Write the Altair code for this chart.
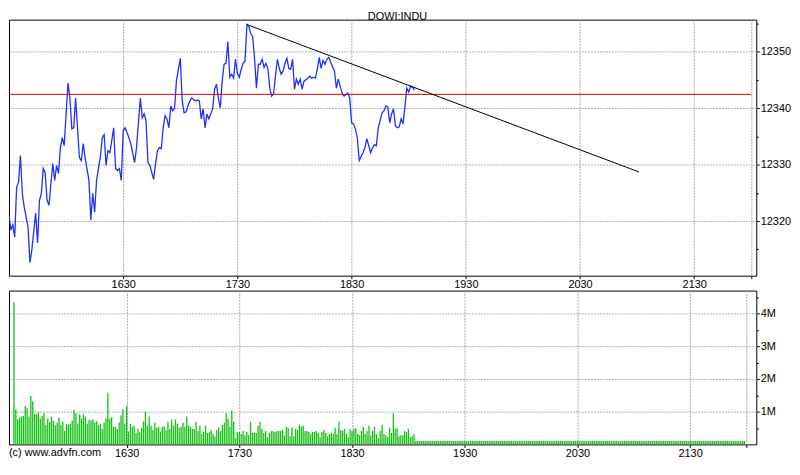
import altair as alt
import pandas as pd

# ---------------- data ----------------
TITLE = "DOWI:INDU"
COPYRIGHT = "(c) www.advfn.com"
SESSION_OPEN_MIN = 930  # 15:30 expressed in minutes after midnight

# price line: minutes after 15:30 and index level
price_minute = [0, 1, 2, 3, 4, 5, 6, 7, 8, 10, 11, 12, 14, 15, 16, 17, 18, 19, 20, 21,
                23, 24, 25, 26, 27, 28, 29, 31, 32, 33, 34, 35, 36, 37, 38, 39, 40, 42, 43, 44,
                45, 46, 48, 49, 50, 51, 52, 53, 54, 55, 56, 57, 58, 59, 60, 61, 63, 64, 66, 67,
                69, 70, 71, 72, 73, 74, 76, 77, 78, 79, 80, 81, 82, 83, 84, 85, 86, 87, 88, 90,
                91, 92, 93, 94, 95, 96, 98, 99, 100, 101, 102, 103, 104, 105, 106, 107, 108, 109, 110, 111,
                112, 113, 114, 115, 116, 117, 118, 119, 120, 121, 122, 123, 124, 125, 126, 127, 128, 129, 130, 131,
                132, 133, 134, 135, 136, 137, 138, 139, 140, 141, 142, 143, 144, 145, 146, 147, 148, 149, 150, 151,
                152, 153, 154, 155, 157, 158, 159, 160, 161, 162, 163, 164, 165, 166, 167, 168, 169, 171, 172, 173,
                174, 175, 176, 178, 179, 180, 181, 182, 183, 184, 186, 187, 188, 189, 190, 191, 192, 193, 194, 196,
                197, 198, 199, 200, 201, 202, 203, 204, 205, 206, 207, 208, 209, 210, 211, 212, 213]
price_value = [12321.05, 12318.42, 12319.30, 12317.19, 12325.97, 12326.85, 12331.60, 12324.92, 12322.46, 12318.94,
               12312.62, 12314.90, 12321.41, 12316.13, 12323.69, 12324.92, 12329.31, 12328.61, 12323.69, 12322.81,
               12330.19, 12327.21, 12329.84, 12328.44, 12333.00, 12334.76, 12333.36, 12344.43, 12341.79, 12336.34,
               12336.52, 12341.79, 12336.52, 12331.25, 12330.72, 12333.71, 12331.25, 12327.21, 12320.18, 12324.92,
               12321.58, 12327.21, 12331.42, 12334.76, 12335.29, 12329.84, 12332.48, 12332.13, 12334.24, 12336.52,
               12329.31, 12328.96, 12329.31, 12327.21, 12335.99, 12336.52, 12334.76, 12333.71, 12330.37, 12333.00,
               12341.79, 12338.28, 12338.98, 12337.75, 12330.37, 12329.84, 12327.38, 12330.19, 12332.48, 12333.00,
               12332.83, 12336.52, 12338.63, 12338.10, 12336.52, 12340.39, 12339.51, 12340.03, 12344.96, 12348.82,
               12341.27, 12339.16, 12339.33, 12340.39, 12341.27, 12341.79, 12341.27, 12341.44, 12341.27, 12338.10,
               12339.86, 12336.52, 12338.98, 12338.10, 12338.98, 12339.86, 12343.37, 12344.25, 12341.79, 12340.03,
               12344.78, 12347.77, 12347.94, 12351.81, 12345.48, 12346.01, 12345.31, 12348.65, 12346.19, 12345.48,
               12346.89, 12347.94, 12348.30, 12354.80, 12354.45, 12353.22, 12352.69, 12348.82, 12343.55, 12347.77,
               12347.77, 12348.65, 12347.24, 12347.94, 12347.06, 12343.55, 12342.14, 12342.50, 12345.66, 12348.65,
               12347.06, 12346.01, 12346.54, 12347.94, 12348.82, 12347.06, 12346.89, 12348.65, 12343.37, 12345.13,
               12344.25, 12345.13, 12343.37, 12344.78, 12345.31, 12345.66, 12345.31, 12345.48, 12345.31, 12346.89,
               12349.00, 12347.06, 12348.47, 12347.77, 12348.65, 12349.00, 12348.12, 12346.54, 12343.55, 12345.13,
               12343.90, 12342.67, 12342.14, 12342.67, 12341.79, 12337.40, 12337.22, 12336.34, 12334.76, 12330.72,
               12332.13, 12333.00, 12334.59, 12333.36, 12332.13, 12333.00, 12333.53, 12333.36, 12336.52, 12339.16,
               12339.51, 12340.39, 12340.21, 12337.40, 12338.98, 12339.86, 12336.87, 12336.52, 12336.70, 12338.10,
               12337.22, 12340.21, 12343.55, 12342.85, 12343.90, 12343.73, 12343.20]

# volume per minute from 15:30, in millions of shares
volume_million = [4.34, 1.07, 0.77, 0.82, 0.85, 0.87, 1.17, 1.10, 0.85, 1.48, 1.32,
                  0.93, 0.93, 0.99, 0.79, 0.87, 0.95, 0.60, 0.79, 0.68, 0.85, 0.72,
                  0.58, 0.66, 0.82, 0.60, 0.69, 0.41, 0.63, 0.61, 0.63, 0.73,
                  1.06, 0.95, 0.63, 0.92, 0.79, 0.92, 0.85, 0.63, 0.75, 0.73,
                  0.76, 0.67, 0.71, 0.60, 0.62, 0.47, 0.66, 0.79, 1.58, 0.79, 0.82,
                  0.54, 0.54, 0.47, 0.67, 0.88, 1.07, 0.63, 1.17, 0.39, 0.63,
                  0.54, 0.57, 0.35, 0.47, 0.37, 0.51, 0.71, 1.00, 0.57, 0.85,
                  0.57, 0.44, 0.66, 0.51, 0.54, 0.39, 0.54, 0.55, 0.44, 0.69, 0.47,
                  0.76, 0.57, 0.76, 0.63, 0.51, 0.54, 0.66, 0.53, 0.85, 0.57,
                  0.54, 0.47, 0.47, 0.69, 0.41, 0.58, 0.32, 0.38, 0.57, 0.35,
                  0.37, 0.44, 0.32, 0.25,
                  0.44, 0.51, 0.41, 0.60, 0.66, 0.95, 0.79, 0.54, 1.04, 0.69,
                  0.19, 0.38, 0.38, 0.32, 0.41, 0.28, 0.38, 0.28, 0.69, 0.35,
                  0.35, 0.35, 0.57, 0.69, 0.47, 0.35, 0.41, 0.22, 0.35, 0.41,
                  0.41, 0.38, 0.41, 0.41, 0.41, 0.44, 0.28, 0.54, 0.51, 0.25, 0.51, 0.25,
                  0.47, 0.44, 0.60, 0.54, 0.57, 0.41, 0.41, 0.38, 0.32, 0.38,
                  0.38, 0.41, 0.35, 0.22, 0.38, 0.44, 0.35, 0.25, 0.32, 0.35,
                  0.32, 0.51, 0.32, 0.69, 0.44, 0.41, 0.47, 0.32, 0.22, 0.47, 0.40,
                  0.47, 0.49, 0.32, 0.28, 0.41, 0.54, 0.32, 0.41, 0.57, 0.28,
                  0.41, 0.54, 0.32, 0.19, 0.41, 0.60, 0.32, 0.28, 0.22, 0.51,
                  0.35, 0.95, 0.47, 0.51, 0.25, 0.28, 0.28, 0.41, 0.38, 0.47,
                  0.22, 0.25, 0.32]
# flat placeholder volume after the last trade, up to 21:59
tail_last_minute = 389
tail_level_million = 0.10

prev_close = 12342.44
trend_minute = [125, 331]
trend_value = [12354.8, 12328.7]
session_end_minute = 390

x_ticks = [60, 120, 180, 240, 300, 360, 390]
price_ticks = [12315, 12320, 12325, 12330, 12335, 12340, 12345, 12350, 12355]
volume_ticks = [500000, 1000000, 1500000, 2000000, 2500000, 3000000, 3500000, 4000000, 4500000]

# ---------------- tables ----------------
price_df = pd.DataFrame({"t": price_minute, "p": price_value})
vol_vals = volume_million + [tail_level_million] * (tail_last_minute + 1 - len(volume_million))
vol_df = pd.DataFrame({"t": list(range(len(vol_vals))), "v": [v * 1e6 for v in vol_vals]})
close_df = pd.DataFrame({"t": [0], "t1": [session_end_minute], "p": [prev_close]})
trend_df = pd.DataFrame({"t": [trend_minute[0]], "t1": [trend_minute[1]],
                         "p": [trend_value[0]], "p1": [trend_value[1]]})
note_df = pd.DataFrame({"label": [COPYRIGHT]})

# ---------------- layout ----------------
W = 753
PH = 258
VH = 155
PX_PER_POINT = 5.69
Y_BOTTOM = 12310.33
PX_PER_MILLION = 33.0

FONT = "Liberation Sans"
XDOM = [0, 392.6]

label_time = ("datum.value >= 390 ? '' : format(floor((%d + datum.value) / 60) * 100 + (%d + datum.value) %% 60, 'd')"
              % (SESSION_OPEN_MIN, SESSION_OPEN_MIN))

def x_axis():
    return alt.Axis(values=x_ticks, labelExpr=label_time, title=None, grid=True,
                    gridColor="#a9a9a9", gridDash=[2, 1], tickSize=3, tickColor="black",
                    labelFontSize=11, labelColor="black", labelPadding=0, domain=False,
                    labelFont=FONT)

xs = alt.Scale(domain=XDOM, nice=False, zero=False)
ys = alt.Scale(domain=[Y_BOTTOM, Y_BOTTOM + PH / PX_PER_POINT], nice=False, zero=False)

minor_p = "datum.value % 10 != 0"

def price_y_axis():
    return alt.Axis(orient="right", values=price_ticks, title=None,
                    labelExpr="datum.value % 10 == 0 ? format(datum.value, 'd') : ''",
                    grid=True, gridColor="#9db5bd", gridDash=[2, 1],
                    gridOpacity={"condition": {"test": minor_p, "value": 0}, "value": 1},
                    tickSize={"condition": {"test": minor_p, "value": 2}, "value": 3},
                    tickColor="black", labelFontSize=11, labelColor="black",
                    labelPadding=1, domain=False, labelFont=FONT)

def px():
    return alt.X("t:Q", scale=xs, axis=x_axis())

def py():
    return alt.Y("p:Q", scale=ys, axis=price_y_axis())

line = alt.Chart(price_df).mark_line(color="#1f2fff", strokeWidth=1.3, clip=True).encode(
    x=px(), y=py())
close_rule = alt.Chart(close_df).mark_rule(color="#dd0000", strokeWidth=1, clip=True).encode(
    x=px(), x2="t1:Q", y=py())
trend = alt.Chart(trend_df).mark_rule(color="black", strokeWidth=1, clip=True).encode(
    x=px(), x2="t1:Q", y=py(), y2="p1:Q")

price_chart = alt.layer(line, close_rule, trend).properties(
    width=W, height=PH,
    title=alt.TitleParams(TITLE, fontSize=11, font=FONT, fontWeight="normal", color="black",
                          anchor="middle", offset=-2, dx=15),
)

minor_v = "datum.value % 1000000 != 0"
vol_y_axis = alt.Axis(orient="right", values=volume_ticks, title=None,
                      labelExpr="datum.value % 1000000 == 0 ? format(datum.value / 1000000, 'd') + 'M' : ''",
                      grid=True, gridColor="#9db5bd", gridDash=[2, 1],
                      gridOpacity={"condition": {"test": minor_v, "value": 0}, "value": 1},
                      tickSize={"condition": {"test": minor_v, "value": 2}, "value": 3},
                      tickColor="black", labelFontSize=11, labelColor="black",
                      labelPadding=1, domain=False, labelFont=FONT)

bars = alt.Chart(vol_df).mark_bar(color="#14c014", size=1.3, clip=True).encode(
    x=alt.X("t:Q", scale=xs, axis=x_axis()),
    y=alt.Y("v:Q", scale=alt.Scale(domain=[0, VH / PX_PER_MILLION * 1e6], nice=False),
            axis=vol_y_axis),
)
note = alt.Chart(note_df).mark_text(align="left", baseline="middle", fontSize=11, font=FONT,
                                    color="black").encode(
    x=alt.value(0), y=alt.value(VH + 9), text="label:N")

vol_chart = alt.layer(bars, note).properties(width=W, height=VH)

chart = alt.vconcat(price_chart, vol_chart, spacing=15).properties(
    bounds="flush", padding={"left": 0, "top": 0, "right": 0, "bottom": 0}
).configure(font=FONT).configure_view(stroke="black", strokeWidth=1)

chart.save("out.html", embed_options={"renderer": "svg", "actions": False})
